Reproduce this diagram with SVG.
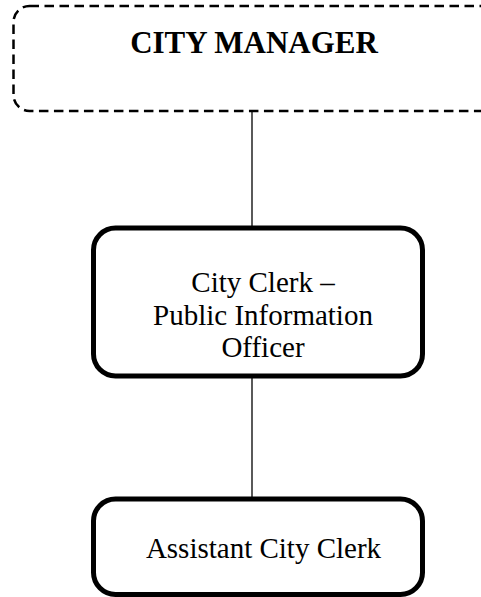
<svg xmlns="http://www.w3.org/2000/svg" width="481" height="597" viewBox="0 0 481 597">
  <style>
    .box { fill: #ffffff; stroke: #000000; stroke-width: 5; }
    .dashed { fill: #ffffff; stroke: #000000; stroke-width: 2.5; stroke-dasharray: 9.5 5.5; }
    .link { stroke: #000000; stroke-width: 1.3; fill: none; }
    .title { font-family: "Liberation Serif", "Times New Roman", serif; font-size: 31px; font-weight: bold; fill: #000; text-anchor: middle; }
    .label { font-family: "Liberation Serif", "Times New Roman", serif; font-size: 29px; fill: #000; text-anchor: middle; }
  </style>
  <rect width="481" height="597" fill="#ffffff"/>

  <g id="connectors">
    <line class="link" x1="252" y1="111" x2="252" y2="228"/>
    <line class="link" x1="252" y1="376" x2="252" y2="499"/>
  </g>

  <g id="city-manager">
    <rect class="dashed" x="13.5" y="6" width="490" height="105" rx="16" ry="16"/>
    <text class="title" x="254" y="53">CITY MANAGER</text>
  </g>

  <g id="city-clerk">
    <rect class="box" x="93.5" y="228" width="329" height="148" rx="22" ry="22"/>
    <text class="label" x="263" y="292">City Clerk –</text>
    <text class="label" x="263" y="325">Public Information</text>
    <text class="label" x="263" y="357">Officer</text>
  </g>

  <g id="assistant-city-clerk">
    <rect class="box" x="93.5" y="499" width="329" height="95.5" rx="22" ry="22"/>
    <text class="label" x="263.5" y="558">Assistant City Clerk</text>
  </g>
</svg>
